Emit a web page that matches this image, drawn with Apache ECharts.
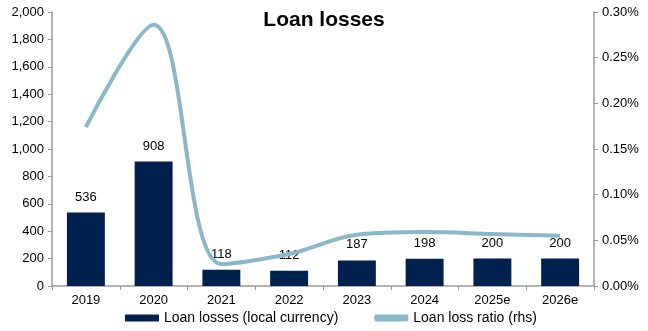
<!DOCTYPE html>
<html>
  <head>
    <meta charset="utf-8">
    <title>Loan losses</title>
    <style type="text/css">
    html,body{margin:0;padding:0;background:#fff;}
    #chart{width:648px;height:331px;}
    </style>
    <script src="https://cdn.jsdelivr.net/npm/echarts@6/dist/echarts.min.js"></script>
  </head>
  <body>
    <div id="chart"></div>
    <script type="text/javascript">
      var years = ['2019', '2020', '2021', '2022', '2023', '2024', '2025e', '2026e'];
      var loanLosses = [536, 908, 118, 112, 187, 198, 200, 200];
      // ratio in percent
      var lossRatio = [0.174, 0.286, 0.024, 0.035, 0.056, 0.059, 0.057, 0.055];

      var font = 'Liberation Sans, Arial, sans-serif';
      var axisGrey = '#9a9a9a';

      var chart = echarts.init(document.getElementById('chart'));
      var option = {
        animation: false,
        textStyle: {fontFamily: font, color: '#000'},
        title: {
          text: 'Loan losses',
          left: 'center',
          top: 5,
          textStyle: {fontSize: 21, fontWeight: 'bold', color: '#000', fontFamily: font}
        },
        grid: {left: 52, right: 54, top: 12, bottom: 45},
        legend: {
          left: 120,
          bottom: 1,
          itemGap: 36,
          itemWidth: 34,
          itemHeight: 7,
          textStyle: {fontSize: 14, color: '#000', fontFamily: font},
          data: [
            {name: 'Loan losses (local currency)', icon: 'rect'},
            {name: 'Loan loss ratio (rhs)', icon: 'roundRect'}
          ]
        },
        xAxis: {
          type: 'category',
          data: years,
          axisLine: {lineStyle: {color: axisGrey, width: 1.5}},
          axisTick: {show: true, length: 4, lineStyle: {color: axisGrey}},
          axisLabel: {fontSize: 13, color: '#000', margin: 8}
        },
        yAxis: [
          {
            type: 'value',
            min: 0, max: 2000, interval: 200,
            axisLine: {show: true, lineStyle: {color: axisGrey, width: 1.5}},
            axisTick: {show: true, length: 4, lineStyle: {color: axisGrey}},
            splitLine: {show: false},
            axisLabel: {
              fontSize: 13, color: '#000', margin: 8,
              formatter: function (v) { return v.toLocaleString('en-US'); }
            }
          },
          {
            type: 'value',
            min: 0, max: 0.30, interval: 0.05,
            position: 'right',
            axisLine: {show: true, lineStyle: {color: axisGrey, width: 1.5}},
            axisTick: {show: true, length: 4, lineStyle: {color: axisGrey}},
            splitLine: {show: false},
            axisLabel: {
              fontSize: 13, color: '#000', margin: 8,
              formatter: function (v) { return v.toFixed(2) + '%'; }
            }
          }
        ],
        series: [
          {
            name: 'Loan losses (local currency)',
            type: 'bar',
            data: loanLosses,
            barWidth: '56%',
            itemStyle: {color: '#00214d'},
            label: {show: true, position: 'top', distance: 9, fontSize: 13, color: '#000'}
          },
          {
            name: 'Loan loss ratio (rhs)',
            type: 'line',
            yAxisIndex: 1,
            data: lossRatio,
            smooth: 0.35,
            showSymbol: false,
            symbol: 'none',
            lineStyle: {color: '#8ab8c9', width: 4},
            itemStyle: {color: '#8ab8c9'}
          }
        ]
      };
      chart.setOption(option);
    </script>
  </body>
</html>
